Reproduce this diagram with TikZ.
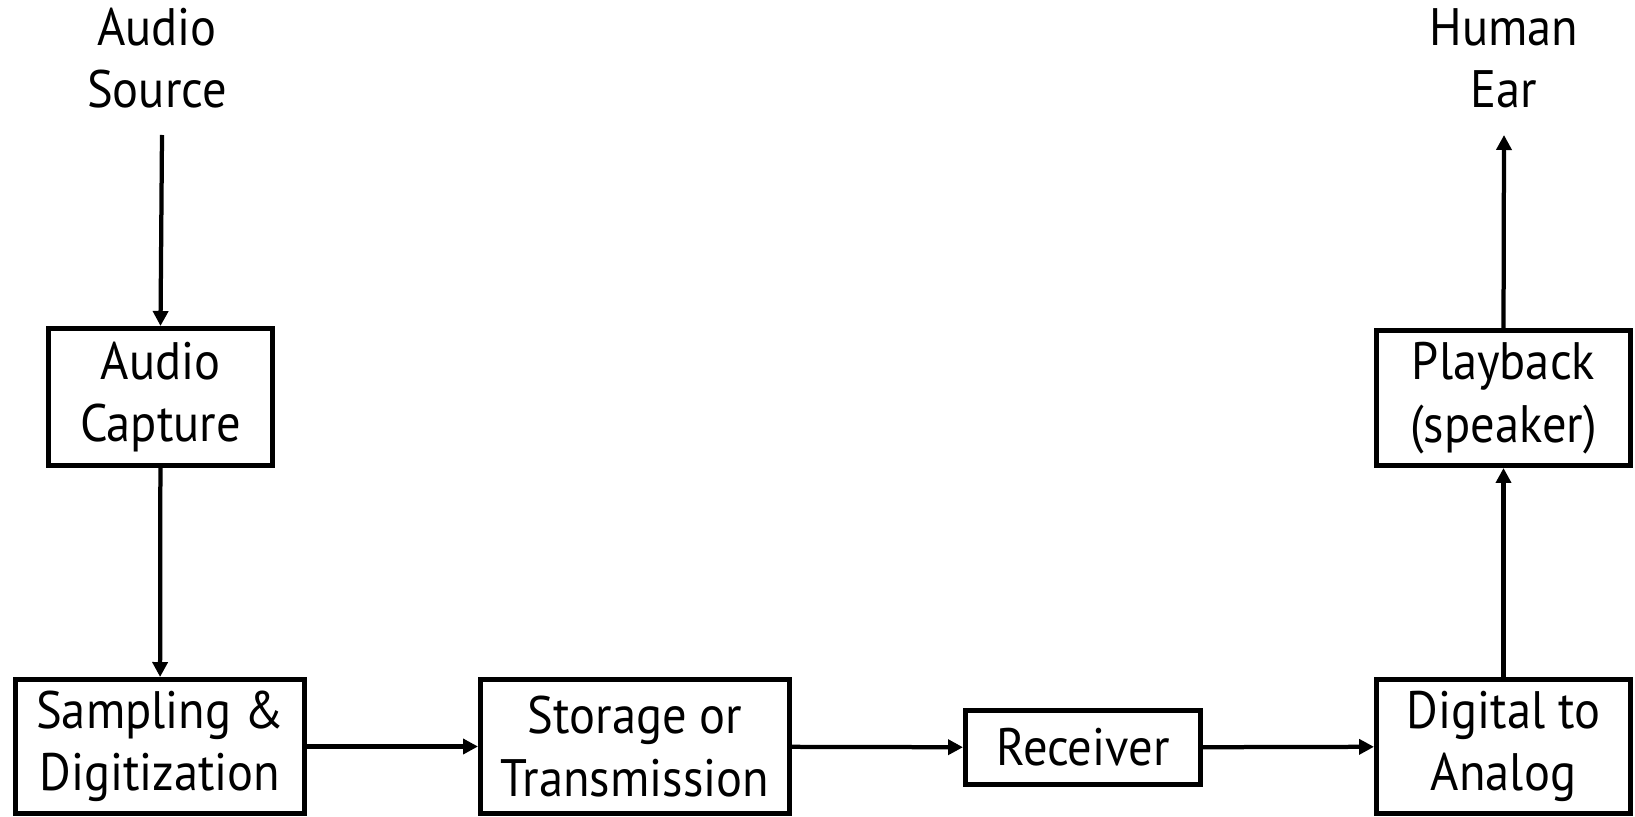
\documentclass[tikz,border=0pt]{standalone}
\usepackage{fontspec}
\setmainfont[FakeStretch=0.92]{PT Sans}
\usetikzlibrary{arrows.meta}
\begin{document}
\begin{tikzpicture}[x=0.02cm,y=-0.02cm,
  box/.style={draw=black,line width=0.1cm,inner sep=0pt,align=center,
    font=\fontsize{30}{35.5}\selectfont},
  lbl/.style={inner sep=0pt,align=center,font=\fontsize{30}{35.5}\selectfont},
  arr/.style={line width=0.085cm,-{Triangle[length=0.3cm,width=0.3cm]}}]
\useasboundingbox (0,0) rectangle (1635,817);
\node[box,minimum width=224*0.02cm,minimum height=137*0.02cm] (capture) at (160.5,397) {Audio\\Capture};
\node[box,minimum width=289*0.02cm,minimum height=134*0.02cm] (sampling) at (160,746.5) {Sampling \&\\Digitization};
\node[box,minimum width=309*0.02cm,minimum height=134*0.02cm] (storage) at (635,746.5) {Storage or\\Transmission};
\node[box,minimum width=235*0.02cm,minimum height=74*0.02cm] (receiver) at (1083,747.5) {Receiver};
\node[box,minimum width=254*0.02cm,minimum height=134*0.02cm] (digital) at (1503.5,746.5) {Digital to\\Analog};
\node[box,minimum width=254*0.02cm,minimum height=135*0.02cm] (playback) at (1503.5,398) {Playback\\(speaker)};
\node[lbl] (source) at (157,58) {Audio\\Source};
\node[lbl] (ear) at (1504,58) {Human\\Ear};
\coordinate (srcend) at (162,135);
\coordinate (earend) at (1504,135);
\draw[arr] (srcend) -- (capture.north);
\draw[arr] (capture) -- (sampling);
\draw[arr] (sampling) -- (storage);
\draw[arr] (storage) -- (receiver);
\draw[arr] (receiver) -- (digital);
\draw[arr] (digital) -- (playback);
\draw[arr] (playback.north) -- (earend);
\end{tikzpicture}
\end{document}
